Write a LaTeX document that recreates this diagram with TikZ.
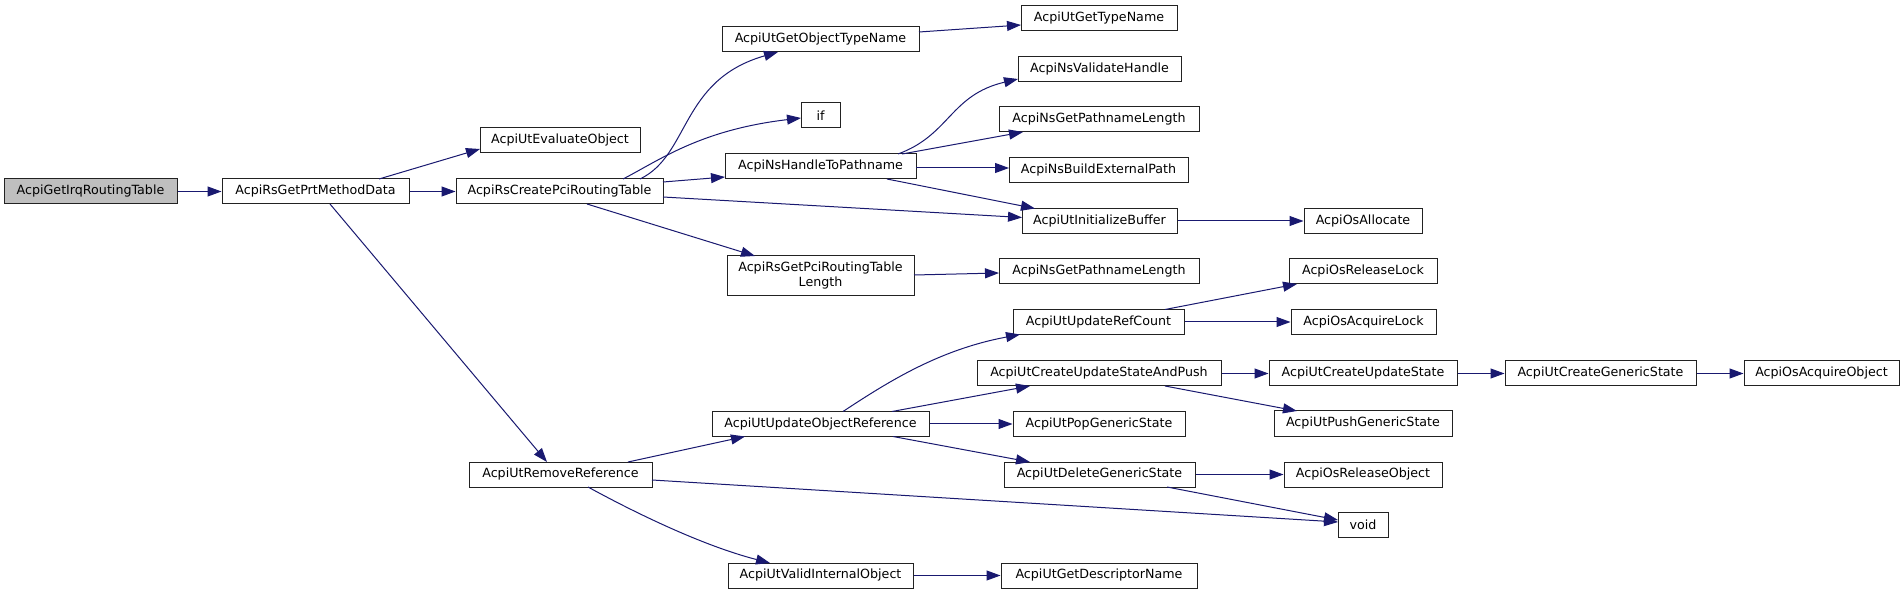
\documentclass[tikz,border=0pt]{standalone}
\usepackage{fontspec}
\setmainfont{DejaVu Sans}
\usetikzlibrary{arrows.meta,calc}
\definecolor{edgeblue}{HTML}{191970}
\definecolor{graybg}{HTML}{BFBFBF}
\definecolor{boxline}{HTML}{222222}
\begin{document}
\begin{tikzpicture}[x=0.75pt,y=-0.75pt,
  fn/.style={draw=boxline, line width=0.75pt, minimum height=18.75pt, inner sep=0pt,
    font=\fontsize{9.5}{11.25}\selectfont, fill=white, align=center},
  bw/.style={minimum width=#1*0.75pt},
  cedge/.style={draw=edgeblue, line width=0.75pt, -{Triangle[length=10.5pt,width=7.5pt]}}]
\useasboundingbox[fill=white] (0,0) rectangle (1904,595);

% column 0-2
\node[fn,bw=173,fill=graybg] (n1) at (90.5,191.5) {AcpiGetIrqRoutingTable};
\node[fn,bw=187] (n2) at (315.5,191.5) {AcpiRsGetPrtMethodData};
\node[fn,bw=207] (n3) at (559.5,191.5) {AcpiRsCreatePciRoutingTable};
\node[fn,bw=160] (n4) at (560,140.5) {AcpiUtEvaluateObject};
\node[fn,bw=183] (n26) at (560.5,474.5) {AcpiUtRemoveReference};
% column 3
\node[fn,bw=197] (n5) at (820.5,39.5) {AcpiUtGetObjectTypeName};
\node[fn,bw=39] (n7) at (820.5,115.5) {if};
\node[fn,bw=191] (n8) at (820.5,166.5) {AcpiNsHandleToPathname};
\node[fn,bw=187,minimum height=30pt] (n14) at (820.5,276) {AcpiRsGetPciRoutingTable\\Length};
\node[fn,bw=217] (n24) at (820.5,424) {AcpiUtUpdateObjectReference};
\node[fn,bw=185] (n30) at (820.5,575.5) {AcpiUtValidInternalObject};
% column 4
\node[fn,bw=156] (n6) at (1099,18.5) {AcpiUtGetTypeName};
\node[fn,bw=163] (n9) at (1099.5,69.5) {AcpiNsValidateHandle};
\node[fn,bw=200] (n10) at (1099,119.5) {AcpiNsGetPathnameLength};
\node[fn,bw=179] (n11) at (1098.5,170.5) {AcpiNsBuildExternalPath};
\node[fn,bw=155] (n12) at (1099.5,221) {AcpiUtInitializeBuffer};
\node[fn,bw=200] (n15) at (1099,271.5) {AcpiNsGetPathnameLength};
\node[fn,bw=171] (n16) at (1098.5,322) {AcpiUtUpdateRefCount};
\node[fn,bw=244] (n19) at (1099,373.5) {AcpiUtCreateUpdateStateAndPush};
\node[fn,bw=172] (n25) at (1099,424) {AcpiUtPopGenericState};
\node[fn,bw=191] (n27) at (1099.5,474.5) {AcpiUtDeleteGenericState};
\node[fn,bw=196] (n31) at (1099,575.5) {AcpiUtGetDescriptorName};
% column 5
\node[fn,bw=118] (n13) at (1363,221) {AcpiOsAllocate};
\node[fn,bw=148] (n17) at (1363,271.5) {AcpiOsReleaseLock};
\node[fn,bw=145] (n18) at (1363.5,322) {AcpiOsAcquireLock};
\node[fn,bw=188] (n20) at (1363,373.5) {AcpiUtCreateUpdateState};
\node[fn,bw=178] (n23) at (1363,423.5) {AcpiUtPushGenericState};
\node[fn,bw=158] (n28) at (1363,474.5) {AcpiOsReleaseObject};
\node[fn,bw=50] (n29) at (1363,524.5) {void};
% columns 6-7
\node[fn,bw=191] (n21) at (1600.5,373.5) {AcpiUtCreateGenericState};
\node[fn,bw=155] (n22) at (1821.5,373.5) {AcpiOsAcquireObject};

% edges
\draw[cedge] (n1.east) -- (n2.west);
\draw[cedge] (n2.east) -- (n3.west);
\draw[cedge] ($(n2)+(63.5,-12.5)$) -- ($(n4)+(-80,8.5)$);
\draw[cedge] ($(n2)+(14.5,12.5)$) -- ($(n26)+(-13.5,-12.5)$);
\draw[cedge] ($(n3)+(80.5,-12.5)$) .. controls +(50,-24) and +(-98,28) .. ($(n5)+(-42.5,12.5)$);
\draw[cedge] ($(n3)+(63.5,-12.5)$) .. controls +(37,-19) and +(-101,12) .. ($(n7)+(-19.5,2.5)$);
\draw[cedge] ($(n3)+(103.5,-9.5)$) -- ($(n8)+(-95.5,10.5)$);
\draw[cedge] ($(n3)+(103.5,5.5)$) -- ($(n12)+(-77.5,-3.5)$);
\draw[cedge] ($(n3)+(27.5,12.5)$) -- ($(n14)+(-65.5,-20)$);
\draw[cedge] ($(n5)+(98.5,-7.5)$) -- ($(n6)+(-78,6.5)$);
\draw[cedge] ($(n8)+(77.5,-12.5)$) .. controls +(52,-19) and +(-68,16) .. ($(n9)+(-81.5,9.5)$);
\draw[cedge] ($(n8)+(81.5,-12.5)$) -- ($(n10)+(-76,12.5)$);
\draw[cedge] ($(n8)+(95.5,1.5)$) -- ($(n11)+(-89.5,-2.5)$);
\draw[cedge] ($(n8)+(66.5,12.5)$) -- ($(n12)+(-64.5,-12.5)$);
\draw[cedge] (n12.east) -- (n12.east -| n13.west);
\draw[cedge] ($(n14)+(93.5,-1)$) -- ($(n15)+(-100,1.5)$);
\draw[cedge] ($(n16)+(66.5,-12.5)$) -- ($(n17)+(-66,12.5)$);
\draw[cedge] (n16.east) -- (n16.east -| n18.west);
\draw[cedge] (n19.east) -- (n19.east -| n20.west);
\draw[cedge] ($(n19)+(66,12.5)$) -- ($(n23)+(-66,-12.5)$);
\draw[cedge] (n20.east) -- (n20.east -| n21.west);
\draw[cedge] (n21.east) -- (n21.east -| n22.west);
\draw[cedge] ($(n24)+(22.5,-12.5)$) .. controls +(47,-31) and +(-80,15) .. ($(n16)+(-78.5,12.5)$);
\draw[cedge] ($(n24)+(71.5,-12.5)$) -- ($(n19)+(-69,12.5)$);
\draw[cedge] (n24.east) -- (n24.east -| n25.west);
\draw[cedge] ($(n24)+(72.5,12.5)$) -- ($(n27)+(-69.5,-12.5)$);
\draw[cedge] ($(n26)+(67.5,-12.5)$) -- ($(n24)+(-75.5,12.5)$);
\draw[cedge] ($(n26)+(91.5,5.5)$) -- ($(n29)+(-25,-2.5)$);
\draw[cedge] ($(n26)+(27.5,12.5)$) .. controls +(42,23) and +(-70,-18) .. ($(n30)+(-50.5,-12.5)$);
\draw[cedge] (n27.east) -- (n27.east -| n28.west);
\draw[cedge] ($(n27)+(67.5,12.5)$) -- ($(n29)+(-25,-4.5)$);
\draw[cedge] (n30.east) -- (n30.east -| n31.west);
\end{tikzpicture}
\end{document}
